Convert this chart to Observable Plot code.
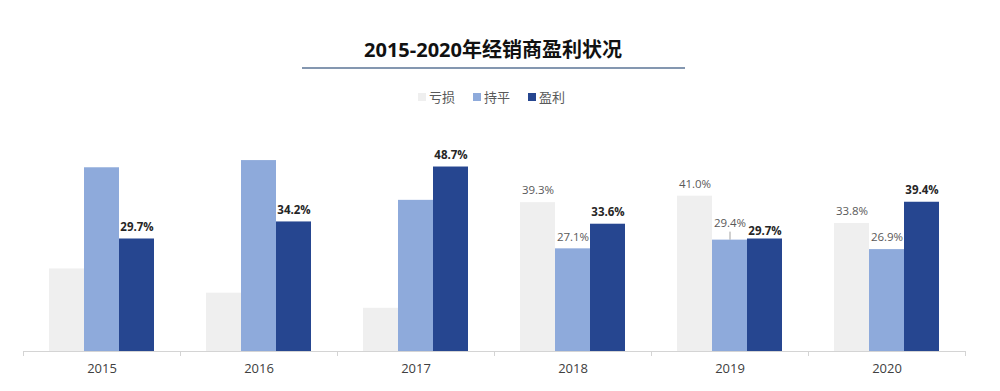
<!DOCTYPE html>
<html><head><meta charset="utf-8">
<script src="https://cdn.jsdelivr.net/npm/d3@7"></script>
<script src="https://cdn.jsdelivr.net/npm/@observablehq/plot@0.6"></script>
<style>
body{margin:0;width:1000px;height:391px;overflow:hidden;background:#fff;font-family:"Open Sans","Noto Sans CJK SC",sans-serif;position:relative}
#title{position:absolute;left:0;width:986px;top:36px;text-align:center;font-size:20px;font-weight:bold;color:#111;line-height:28px;font-family:"Open Sans","Noto Sans CJK SC",sans-serif}
#rule{position:absolute;left:302px;width:383px;top:67px;height:2px;background:#8497b0}
#legend{position:absolute;top:88px;left:418px;display:flex;gap:18px;font-size:13px;color:#595959;line-height:18px}
#legend .it{display:flex;align-items:center}
#legend .sw{width:8px;height:8px;margin-right:3px}
#chart{position:absolute;top:120px;left:0}
</style></head>
<body>
<div id="title">2015-2020年经销商盈利状况</div>
<div id="rule"></div>
<div id="legend"></div>
<div id="chart"></div>
<script>
const years = ["2015","2016","2017","2018","2019","2020"];
const series = ["亏损","持平","盈利"];
const loss   = [21.8, 15.4, 11.4, 39.3, 41.0, 33.8];
const even   = [48.5, 50.4, 39.9, 27.1, 29.4, 26.9];
const profit = [29.7, 34.2, 48.7, 33.6, 29.7, 39.4];
const labelledYears = ["2018","2019","2020"]; // years where 亏损/持平 are labelled
const colors = ["#efefef","#8eaadb","#264690"];

const values = [loss, even, profit];
const data = years.flatMap((y,i)=>series.map((s,j)=>({year:y, series:s, value:values[j][i]})));

// legend
const lg = document.getElementById("legend");
series.forEach((s,j)=>{
  const it = document.createElement("div"); it.className="it";
  it.innerHTML = `<span class="sw" style="background:${colors[j]}"></span><span>${s}</span>`;
  lg.appendChild(it);
});

const W = 1000, ML = 22, MR = 35, PO = 0.74;
const facetW = (W - ML - MR) / years.length;
const step = facetW / (series.length + 2*PO);
const edge = PO*step + step/2;

const lightLabels = data.filter(d => d.series !== "盈利" && labelledYears.includes(d.year));
const boldLabels = data.filter(d => d.series === "盈利");
const special = d => d.year === "2019";

const fmt = d => d.value.toFixed(1) + "%";

const plot = Plot.plot({
  width: W, height: 271,
  marginLeft: ML, marginRight: MR, marginTop: 20, marginBottom: 40,
  style: {fontFamily: '"Open Sans","Noto Sans CJK SC",sans-serif', background: "transparent"},
  fx: {domain: years, padding: 0, label: null},
  x: {domain: series, paddingInner: 0, paddingOuter: PO, axis: null},
  y: {domain: [0, 55.7], axis: null},
  color: {domain: series, range: colors},
  marks: [
    Plot.barY(data, {fx: "year", x: "series", y: "value", fill: "series"}),
    Plot.ruleY([0], {stroke: "#d4d4d4", strokeWidth: 1}),
    Plot.ruleX(years.map(y => ({year: y, series: series[0]})), {fx: "year", x: "series", y1: 0, y2: 0, insetBottom: -5, dx: -edge, stroke: "#d4d4d4"}),
    Plot.ruleX([{year: years[years.length-1], series: series[series.length-1]}], {fx: "year", x: "series", y1: 0, y2: 0, insetBottom: -5, dx: edge, stroke: "#d4d4d4"}),
    Plot.text(lightLabels.filter(d => !(special(d) && d.series === "持平")), {fx: "year", x: "series", y: "value", text: fmt, dy: -12, fontSize: 11.5, fill: "#595959"}),
    Plot.text(lightLabels.filter(d => special(d) && d.series === "持平"), {fx: "year", x: "series", y: "value", text: fmt, dy: -17, fontSize: 11.5, fill: "#595959"}),
    Plot.ruleX(lightLabels.filter(d => special(d) && d.series === "持平"), {fx: "year", x: "series", y1: "value", y2: "value", insetTop: -8, stroke: "#8c8c8c", strokeWidth: 0.8}),
    Plot.text(boldLabels.filter(d => !special(d)), {fx: "year", x: "series", y: "value", text: fmt, fontSize: 11.5, fontWeight: "bold", fill: "#262626", dy: -12}),
    Plot.text(boldLabels.filter(special), {fx: "year", x: "series", y: "value", text: fmt, fontSize: 11.5, fontWeight: "bold", fill: "#262626", dy: -8}),
    Plot.axisFx({anchor: "bottom", tickSize: 0, tickPadding: 12, fontSize: 13, color: "#404040", label: null})
  ]
});
document.getElementById("chart").appendChild(plot);
</script>
</body></html>
